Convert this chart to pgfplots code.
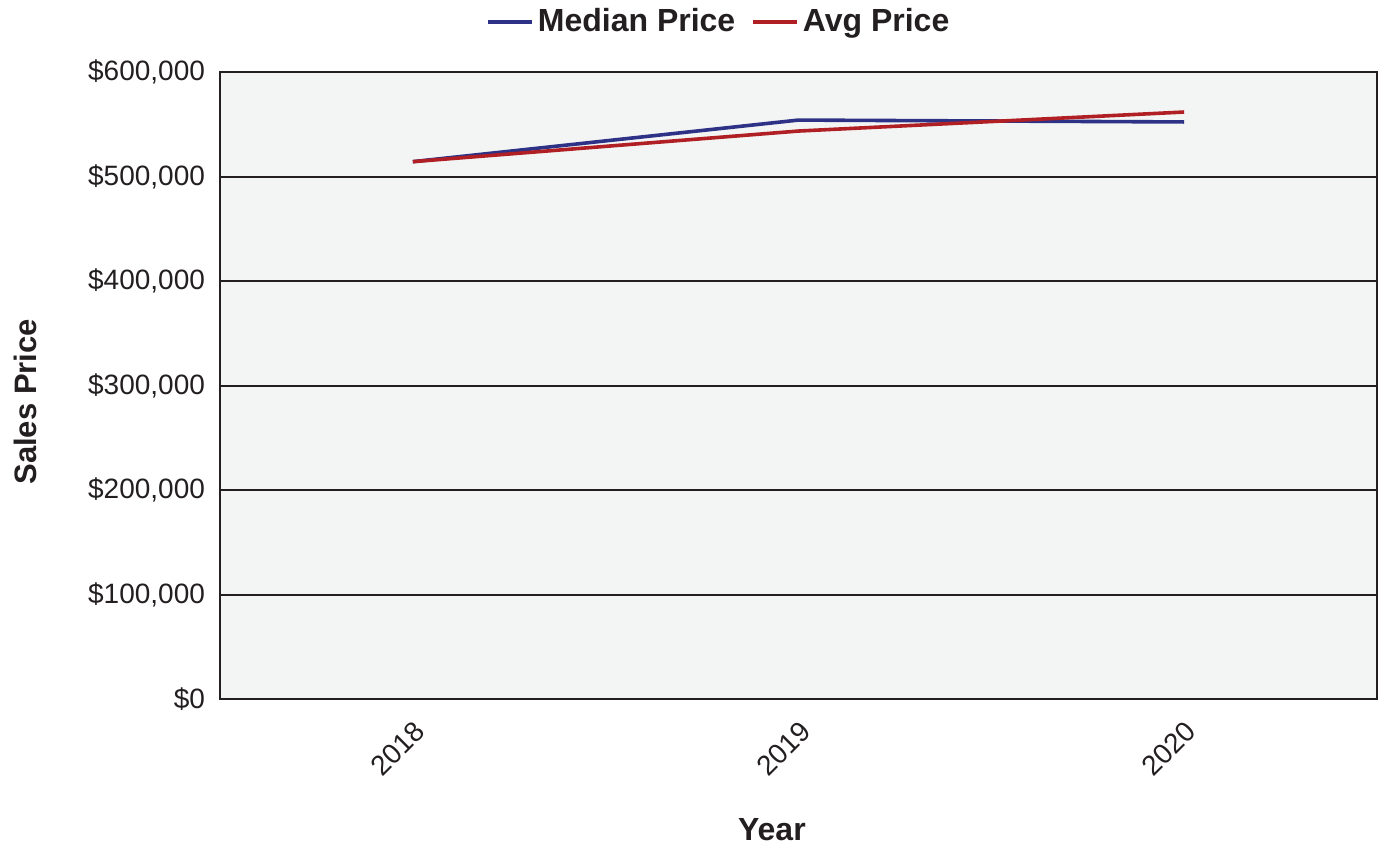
\documentclass[border=0pt]{standalone}
\usepackage{pgfplots}
\pgfplotsset{compat=1.18}
\usepackage{fontspec}
\setmainfont{Liberation Sans}
\definecolor{medblue}{HTML}{2E3287}
\definecolor{avgred}{HTML}{B01F24}
\definecolor{bgcol}{HTML}{F3F5F4}
\definecolor{framecol}{HTML}{231F20}
\begin{document}
\begin{tikzpicture}
\useasboundingbox (-110pt,-73.5pt) rectangle (583.5pt,349.5pt);
\begin{axis}[
  scale only axis,
  width=578.5pt, height=313.5pt,
  xmin=-0.5, xmax=2.5,
  ymin=0, ymax=600000,
  scaled y ticks=false,
  xtick={0,1,2},
  xticklabels={2018,2019,2020},
  ytick={0,100000,200000,300000,400000,500000,600000},
  yticklabels={{\$0},{\$100,000},{\$200,000},{\$300,000},{\$400,000},{\$500,000},{\$600,000}},
  major tick length=0pt,
  axis line style={framecol, line width=1pt},
  ymajorgrids,
  grid style={framecol, line width=1pt},
  axis background/.style={fill=bgcol},
  yticklabel style={font=\fontsize{14}{16}\selectfont, text=framecol, xshift=-4pt},
  xticklabel style={font=\fontsize{14}{16}\selectfont, text=framecol, xshift=6pt, yshift=-11.5pt, rotate=45, anchor=east},
  xlabel={Year},
  ylabel={Sales Price},
  xlabel style={font=\bfseries\fontsize{16}{18}\selectfont, text=framecol, at={(axis description cs:0.477,-0.209)}, anchor=center},
  ylabel style={font=\bfseries\fontsize{15.5}{17}\selectfont, text=framecol, at={(axis description cs:-0.1685,0.474)}, anchor=center},
  legend columns=2,
  legend style={draw=none, fill=none, at={(axis description cs:0.432,1.08)}, anchor=center,
    font=\bfseries\fontsize{16}{18}\selectfont, text=framecol,
    /tikz/every even column/.append style={column sep=6pt}},
  legend image code/.code={\draw[#1] (0pt,0pt) -- (22pt,0pt);},
  clip=false,
]
\addplot[medblue, line width=1.8pt] coordinates {(0,514200) (1,554000) (2,552200)};
\addlegendentry{Median Price}
\addplot[avgred, line width=1.8pt] coordinates {(0,514200) (1,543500) (2,561700)};
\addlegendentry{Avg Price}
\end{axis}
\end{tikzpicture}
\end{document}
